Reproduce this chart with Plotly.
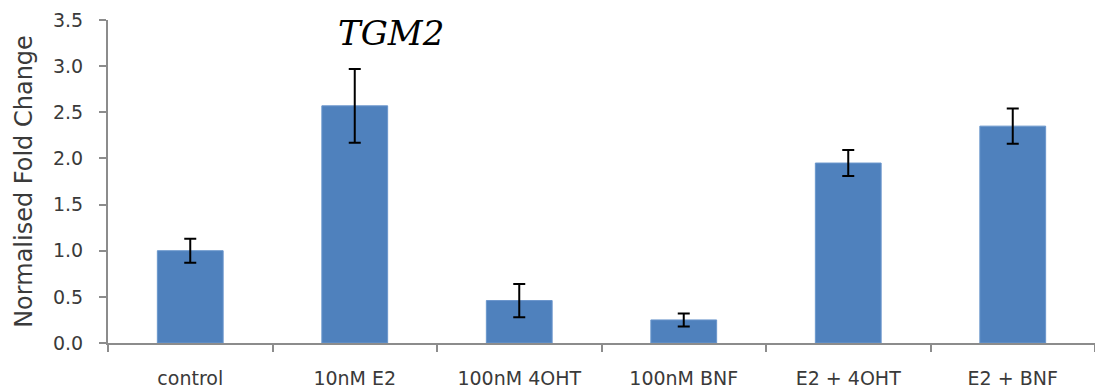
import plotly.graph_objects as go

categories = ["control", "10nM E2", "100nM 4OHT", "100nM BNF", "E2 + 4OHT", "E2 + BNF"]
values = [1.00, 2.57, 0.46, 0.25, 1.95, 2.35]
errors = [0.13, 0.40, 0.18, 0.07, 0.14, 0.19]
y_ticks = [0.0, 0.5, 1.0, 1.5, 2.0, 2.5, 3.0, 3.5]
y_tick_labels = ["0.0", "0.5", "1.0", "1.5", "2.0", "2.5", "3.0", "3.5"]

axis_color = "#8c8c8c"
text_color = "#3a3a3a"
tick_font = dict(family="DejaVu Sans", size=19, color=text_color)

fig = go.Figure(
    go.Bar(
        x=categories,
        y=values,
        marker=dict(color="#4F81BD", line=dict(color="#6a96cc", width=1)),
        error_y=dict(type="data", array=errors, visible=True, color="black", thickness=2, width=6),
    )
)

fig.update_layout(
    width=1095,
    height=389,
    margin=dict(l=108, r=0, t=20, b=46),
    paper_bgcolor="white",
    plot_bgcolor="white",
    bargap=0.6,
    showlegend=False,
)
fig.add_annotation(
    text="<i>TGM2</i>",
    x=0.287, xref="paper", xanchor="center", y=3.36, yref="y",
    showarrow=False,
    font=dict(family="DejaVu Serif", size=34, color="black"),
    yanchor="middle",
)

fig.update_xaxes(
    showline=True, linecolor=axis_color, linewidth=2,
    ticks="outside", tickson="boundaries", ticklen=7, tickcolor=axis_color, tickwidth=2,
    tickfont=tick_font, ticklabelstandoff=17, showgrid=False,
)
fig.update_yaxes(
    range=[0, 3.5], tickvals=y_ticks, ticktext=y_tick_labels,
    showline=True, linecolor=axis_color, linewidth=2,
    ticks="outside", ticklen=7, tickcolor=axis_color, tickwidth=2,
    tickfont=tick_font, ticklabelstandoff=12, showgrid=False, zeroline=False,
    title=dict(text="Normalised Fold Change", font=dict(family="DejaVu Sans", size=24, color=text_color), standoff=14),
)

fig.write_html("out.html")
